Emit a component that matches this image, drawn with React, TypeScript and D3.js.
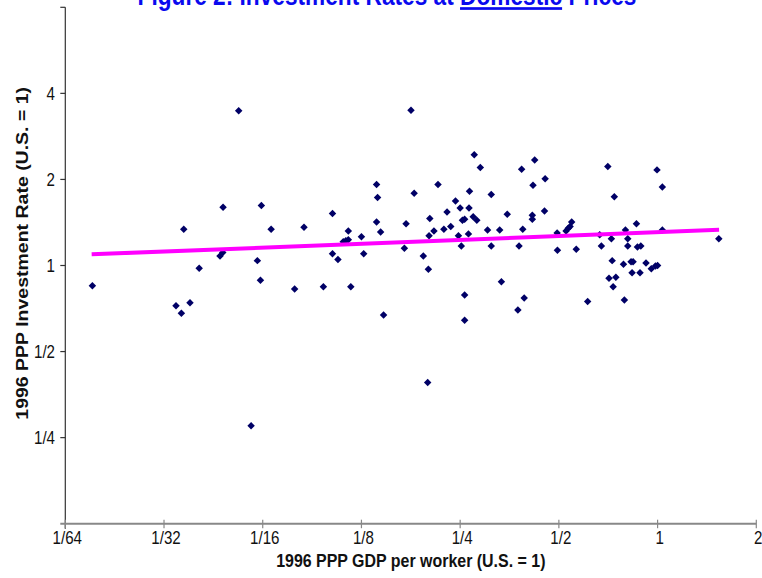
import React from 'react';
import * as d3 from 'd3';

// GDP per worker relative to the U.S.
const gdpPerWorker = [
  0.0528, 0.0473, 0.0619, 0.0359, 0.0663, 0.0835, 0.0463, 0.0472, 0.0602, 0.0400,
  0.0189, 0.0615, 0.0782, 0.0340, 0.0375, 0.0353, 0.0576, 0.177, 0.276, 0.288,
  0.385, 0.422, 0.454, 0.417, 0.139, 0.140, 0.181, 0.214, 0.267, 0.311,
  0.242, 0.250, 0.266, 0.228, 0.102, 0.202, 0.254, 0.258, 0.274, 0.281,
  0.348, 0.415, 0.415, 0.452, 0.139, 0.171, 0.223, 0.234, 0.388, 0.303,
  0.330, 0.114, 0.143, 0.208, 0.201, 0.125, 0.247, 0.265, 0.110, 0.112,
  0.114, 0.169, 0.252, 0.311, 0.378, 0.102, 0.106, 0.127, 0.193, 0.200,
  0.0957, 0.116, 0.334, 0.258, 0.392, 0.375, 0.146, 0.258, 0.199, 0.494,
  0.495, 0.526, 0.534, 0.541, 0.547, 0.565, 0.705, 0.738, 0.666, 0.674,
  0.723, 0.798, 0.862, 0.811, 0.811, 0.868, 0.889, 0.727, 0.787, 0.830,
  0.842, 0.922, 0.957, 0.985, 1.00, 0.836, 0.884, 0.711, 0.746, 0.732,
  0.612, 0.792, 0.996, 1.034, 1.034, 1.537,
];

// investment rate relative to the U.S.
const investmentRate = [
  3.48, 1.60, 1.62, 1.34, 1.34, 1.36, 1.08, 1.11, 1.04, 0.978,
  0.850, 0.888, 0.828, 0.723, 0.741, 0.681, 0.275, 3.49, 2.44, 2.20,
  2.17, 2.34, 2.01, 1.91, 1.92, 1.73, 1.79, 1.92, 1.82, 1.77,
  1.68, 1.59, 1.59, 1.54, 1.52, 1.46, 1.44, 1.45, 1.48, 1.44,
  1.51, 1.50, 1.45, 1.55, 1.42, 1.40, 1.34, 1.37, 1.34, 1.33,
  1.33, 1.32, 1.31, 1.32, 1.27, 1.26, 1.27, 1.29, 1.21, 1.22,
  1.23, 1.15, 1.17, 1.17, 1.17, 1.10, 1.05, 1.10, 1.08, 0.970,
  0.843, 0.843, 0.878, 0.789, 0.770, 0.699, 0.671, 0.643, 0.390, 1.30,
  1.13, 1.32, 1.35, 1.37, 1.42, 1.14, 2.22, 1.74, 1.28, 1.17,
  1.24, 1.33, 1.40, 1.24, 1.17, 1.16, 1.17, 1.04, 1.01, 1.03,
  1.03, 1.02, 0.975, 0.996, 1.00, 0.944, 0.944, 0.902, 0.909, 0.843,
  0.749, 0.757, 2.16, 1.88, 1.33, 1.24,
];

// fitted line end points
const trendGdp = [0.0188, 1.54];
const trendRate = [1.094, 1.334];

const xDomain = [1 / 64, 2];
const yDomain = [1 / 8, 8];
const xTickValues = [1 / 64, 1 / 32, 1 / 16, 1 / 8, 1 / 4, 1 / 2, 1, 2];
const xTickLabels = ['1/64', '1/32', '1/16', '1/8', '1/4', '1/2', '1', '2'];
const yTickValues = [1 / 4, 1 / 2, 1, 2, 4];
const yTickLabels = ['1/4', '1/2', '1', '2', '4'];

const FONT = '"Liberation Sans", Arial, sans-serif';
const SQ = 0.84; // the slide is squeezed horizontally

export default function App() {
  const x = d3.scaleLog().base(2).domain(xDomain).range([65.3, 756.3]);
  const y = d3.scaleLog().base(2).domain(yDomain).range([523.7, 7.3]);
  const diamond = d3.symbol(d3.symbolSquare, 28)() as string;
  const trend = d3.line<number>()
    .x(i => x(trendGdp[i]))
    .y(i => y(trendRate[i]))([0, 1]) as string;

  const y0 = y(yDomain[0]);
  const x0 = x(xDomain[0]);

  return (
    <svg width={762} height={578} style={{ position: 'absolute', left: 0, top: 0, background: '#fff' }}>
      {/* title, cut off at the top as in the slide */}
      <g transform={`translate(387,5) scale(${SQ},1)`}>
        <text textAnchor="middle" fontFamily={FONT} fontWeight="bold" fontSize={27} fill="#0a0aee">
          Figure 2: Investment Rates at <tspan style={{ textDecoration: 'underline' }}>Domestic</tspan> Prices
        </text>
      </g>

      {/* y axis */}
      <line x1={x0} x2={x0} y1={y(yDomain[1])} y2={y0 + 5} stroke="#333" strokeWidth={1.2} />
      <line x1={x0 - 5} x2={x0} y1={y(yDomain[1])} y2={y(yDomain[1])} stroke="#333" strokeWidth={1.2} />
      {yTickValues.map((v, i) => (
        <g key={'yt' + i}>
          <line x1={x0 - 5} x2={x0} y1={y(v)} y2={y(v)} stroke="#333" strokeWidth={1.2} />
          <g transform={`translate(55,${y(v) + 6.3}) scale(${SQ},1)`}>
            <text textAnchor="end" fontFamily={FONT} fontSize={18} fill="#111">{yTickLabels[i]}</text>
          </g>
        </g>
      ))}

      {/* x axis */}
      <line x1={x0 - 5} x2={x(xDomain[1])} y1={y0} y2={y0} stroke="#888" strokeWidth={2} />
      {xTickValues.map((v, i) => (
        <g key={'xt' + i}>
          <line x1={x(v)} x2={x(v)} y1={y0 - 4} y2={y0 + 4.5} stroke="#888" strokeWidth={1.2} />
          <g transform={`translate(${x(v) + 2},543.5) scale(${SQ},1)`}>
            <text textAnchor="middle" fontFamily={FONT} fontSize={18} fill="#111">{xTickLabels[i]}</text>
          </g>
        </g>
      ))}

      {/* axis titles */}
      <g transform={`translate(410.8,567) scale(${SQ},1)`}>
        <text textAnchor="middle" fontFamily={FONT} fontWeight="bold" fontSize={19} fill="#111">
          1996 PPP GDP per worker (U.S. = 1)
        </text>
      </g>
      <g transform={`translate(28,253.3) rotate(-90) scale(1,${SQ})`}>
        <text textAnchor="middle" fontFamily={FONT} fontWeight="bold" fontSize={19.5} fill="#111">
          1996 PPP Investment Rate (U.S. = 1)
        </text>
      </g>

      {/* points */}
      {gdpPerWorker.map((g, i) => (
        <path key={'p' + i} d={diamond}
          transform={`translate(${x(g)},${y(investmentRate[i])}) rotate(45)`}
          fill="#000066" />
      ))}

      {/* fitted line */}
      <path d={trend} fill="none" stroke="#ff00ff" strokeWidth={4} />
    </svg>
  );
}
